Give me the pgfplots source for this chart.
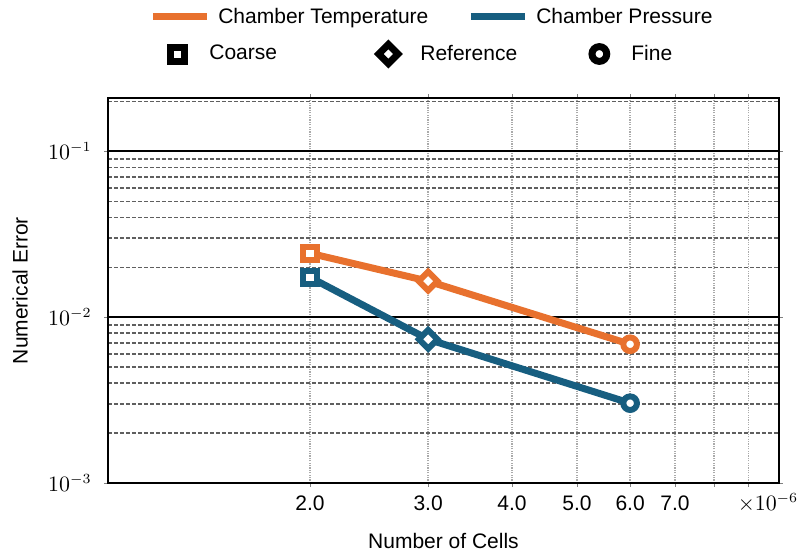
\documentclass[border=0pt]{standalone}
\usepackage{pgfplots}
\usepackage{pgfplotstable}
\pgfplotsset{compat=1.18}
\usepackage{fontspec}
\setmainfont{Liberation Sans}
\definecolor{corange}{RGB}{232,113,46}
\definecolor{cblue}{RGB}{23,94,128}
\definecolor{cgridd}{RGB}{95,95,95}
\definecolor{cgridx}{RGB}{170,170,170}

\pgfplotsset{
  lineleg/.style={legend image code/.code={\draw[##1] (0pt,0pt) -- (27pt,0pt);}},
  markleg/.style={legend image code/.code={\path[draw=none, fill=none] (0pt,0pt) -- (22pt,0pt); \draw[##1] plot coordinates {(10pt,0pt)};}},
}

\pgfplotstableread{
x     temp     pres
2     0.0243   0.0174
3     0.0165   0.00736
6     0.00687  0.00303
}\errtable

\begin{document}
\fontsize{10.5}{12.6}\selectfont
\begin{tikzpicture}
\useasboundingbox (0,0) rectangle (400pt,277pt);
\begin{axis}[
  name=ax,
  at={(54pt,35.5pt)}, anchor=south west,
  scale only axis, width=335.5pt, height=192.5pt,
  xmode=log, ymode=log,
  xmin=1, xmax=10, ymin=1e-3, ymax=0.21,
  xtick={2,3,4,5,6,7,8,9},
  xticklabels={2.0,3.0,4.0,5.0,6.0,7.0,,},
  ytick={1e-3,1e-2,1e-1},
  minor ytick={0.002,0.003,0.004,0.005,0.006,0.007,0.008,0.009,0.02,0.03,0.04,0.05,0.06,0.07,0.08,0.09,0.2},
  minor xtick={},
  xmajorgrids, ymajorgrids, yminorgrids,
  major x grid style={cgridx, line width=0.7pt, dash pattern=on 0.6pt off 0.6pt},
  major y grid style={black, line width=1pt, solid},
  minor y grid style={cgridd, line width=0.8pt, dash pattern=on 2pt off 1pt},
  axis line style={black, line width=1.3pt},
  tick align=outside,
  major tick length=2pt, minor tick length=0pt,
  tick style={gray, thin},
  tick label style={font=\fontsize{10.5}{12}\selectfont},
  xticklabel style={yshift=-0.5pt},
  yticklabel style={xshift=-2.5pt},
  xlabel={Number of Cells},
  ylabel={Numerical Error},
  every axis x label/.style={at={(rel axis cs:0.5,0)}, anchor=center, yshift=-29pt},
  every axis y label/.style={at={(rel axis cs:0,0.5)}, xshift=-44pt, rotate=90, anchor=center},
  legend style={at={(rel axis cs:0.061,1)}, anchor=west, yshift=40.5pt,
    draw=none, fill=none, inner sep=0pt, column sep=2pt},
  legend columns=2,
]
\addlegendimage{corange, line width=3.5pt, lineleg}
\addlegendentry{\makebox[120.5pt][l]{Chamber Temperature}}
\addlegendimage{cblue, line width=3.5pt, lineleg}
\addlegendentry{\makebox[120.5pt][l]{Chamber Pressure}}

\addplot[corange, line width=3.5pt, forget plot] table[x=x, y=temp]{\errtable};
\addplot[cblue, line width=3.5pt, forget plot] table[x=x, y=pres]{\errtable};

\addplot[only marks, forget plot, mark=square*, mark indices={1}, mark size=3.3pt, mark options={fill=white, draw=corange, line width=3pt, solid}] table[x=x, y=temp]{\errtable};
\addplot[only marks, forget plot, mark=square*, mark indices={2}, mark size=3.3pt, mark options={rotate=45, fill=white, draw=corange, line width=3pt, solid}] table[x=x, y=temp]{\errtable};
\addplot[only marks, forget plot, mark=*, mark indices={3}, mark size=3.4pt, mark options={fill=white, draw=corange, line width=3pt, solid}] table[x=x, y=temp]{\errtable};

\addplot[only marks, forget plot, mark=square*, mark indices={1}, mark size=3.3pt, mark options={fill=white, draw=cblue, line width=3pt, solid}] table[x=x, y=pres]{\errtable};
\addplot[only marks, forget plot, mark=square*, mark indices={2}, mark size=3.3pt, mark options={rotate=45, fill=white, draw=cblue, line width=3pt, solid}] table[x=x, y=pres]{\errtable};
\addplot[only marks, forget plot, mark=*, mark indices={3}, mark size=3.4pt, mark options={fill=white, draw=cblue, line width=3pt, solid}] table[x=x, y=pres]{\errtable};
\end{axis}

\node[anchor=north, inner sep=0pt] at ([xshift=-5.5pt, yshift=-5pt]ax.south east) {\fontsize{10.5}{12}\selectfont$\times 10^{-6}$};

\begin{axis}[
  at={(54pt,35.5pt)}, anchor=south west,
  scale only axis, width=335.5pt, height=192.5pt,
  hide axis, xmin=0, xmax=1, ymin=0, ymax=1,
  legend style={at={(rel axis cs:0.073,1)}, anchor=west, yshift=22pt,
    draw=none, fill=none, inner sep=0pt, column sep=2pt},
  legend columns=3,
]
\addlegendimage{only marks, mark=square*, mark size=3.5pt, mark options={fill=white, draw=black, line width=3.5pt, solid}, markleg}
\addlegendentry{\makebox[75.5pt][l]{Coarse}}
\addlegendimage{only marks, mark=square*, mark size=3.4pt, mark options={rotate=45, fill=white, draw=black, line width=3.5pt, solid}, markleg}
\addlegendentry{\makebox[75.5pt][l]{Reference}}
\addlegendimage{only marks, mark=*, mark size=3.7pt, mark options={fill=white, draw=black, line width=3.5pt, solid}, markleg}
\addlegendentry{\makebox[75.5pt][l]{Fine}}
\end{axis}
\end{tikzpicture}
\end{document}
